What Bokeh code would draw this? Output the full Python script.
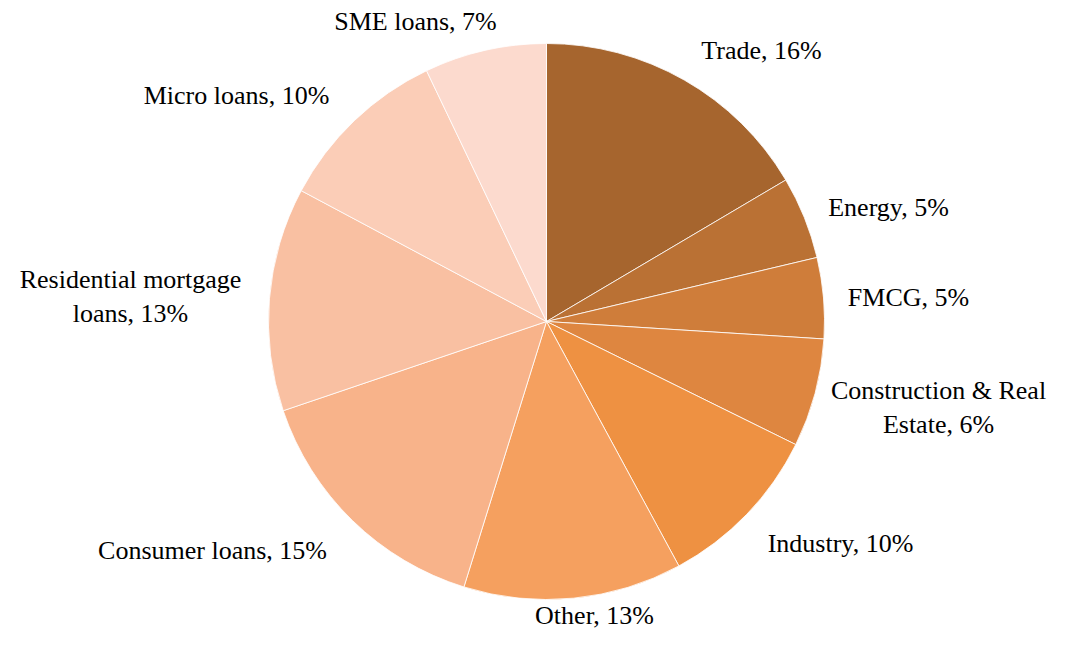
import math
from bokeh.plotting import figure
from bokeh.models import Range1d, ColumnDataSource
from bokeh.core.properties import value
from bokeh.embed import file_html
from bokeh.resources import INLINE

categories = ["Trade", "Energy", "FMCG", "Construction & Real Estate", "Industry",
              "Other", "Consumer loans", "Residential mortgage loans", "Micro loans", "SME loans"]
shares = [16.5, 4.8, 4.7, 6.3, 9.8, 12.7, 15.0, 13.0, 10.1, 7.1]
label_texts = ["Trade, 16%", "Energy, 5%", "FMCG, 5%", "Construction & Real\nEstate, 6%",
               "Industry, 10%", "Other, 13%", "Consumer loans, 15%",
               "Residential mortgage\nloans, 13%", "Micro loans, 10%", "SME loans, 7%"]
colors = ["#A6652E", "#BA7134", "#CF7D3A", "#DE8640", "#EE9142",
          "#F5A05F", "#F8B38A", "#F9C0A2", "#FBCDB7", "#FCDACE"]

# layout (picture pixel coordinates)
cx, cy, R = 546, 321, 278
label_pos = [(761, 50), (888, 207), (908, 297), (938, 407), (840, 543),
             (594, 615), (212, 550), (130, 296), (236, 95), (415, 21)]

total = sum(shares)
starts, ends = [], []
acc = 0.0
for s in shares:
    starts.append(math.pi / 2 - 2 * math.pi * acc / total)
    acc += s
    ends.append(math.pi / 2 - 2 * math.pi * acc / total)

src = ColumnDataSource(dict(cat=categories, share=shares, start=starts, end=ends, color=colors))

p = figure(width=1049, height=629, output_backend="svg", toolbar_location=None,
           x_range=Range1d(0, 1049), y_range=Range1d(-629, 0), min_border=0)
p.axis.visible = False
p.grid.visible = False
p.outline_line_color = None
p.background_fill_color = "white"

p.wedge(x=cx, y=-cy, radius=R, start_angle="start", end_angle="end", direction="clock",
        fill_color="color", line_color="white", line_width=0.8, source=src)

lsrc = ColumnDataSource(dict(x=[q[0] for q in label_pos], y=[-q[1] for q in label_pos], t=label_texts))
p.text(x="x", y="y", text="t", source=lsrc, text_font=value("Liberation Serif"),
       text_font_size="26px", text_align="center", text_baseline="middle",
       text_color="black", text_line_height=1.2)

open("out.html", "w").write(file_html(p, INLINE))
